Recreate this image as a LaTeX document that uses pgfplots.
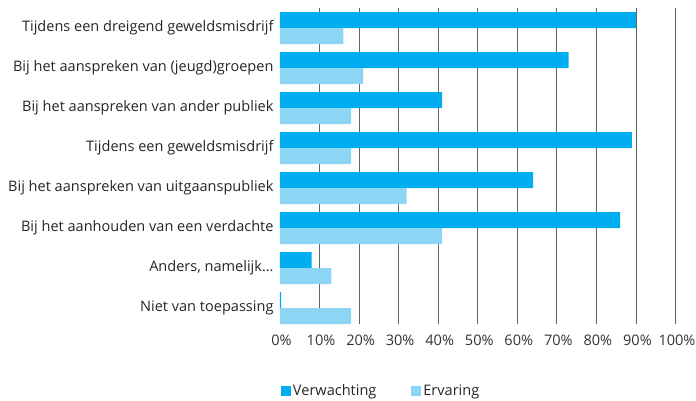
\documentclass[border=0pt]{standalone}
\usepackage{fontspec}
\setmainfont{Open Sans}
\usepackage{pgfplots}
\pgfplotsset{compat=1.18}
\definecolor{verw}{HTML}{00AEEF}
\definecolor{erv}{HTML}{8DD5F4}
\definecolor{gridgray}{HTML}{646464}
\newcommand{\lblfont}{\fontsize{14.6}{16}\selectfont}
\begin{document}
\begin{tikzpicture}
\useasboundingbox (-280bp,-77bp) rectangle (416bp,324bp);
\begin{axis}[
    at={(0,0)}, anchor=south west,
    scale only axis,
    width=395.5bp, height=316bp,
    xbar, bar width=16bp,
    xmin=0, xmax=100,
    ymin=-0.5, ymax=7.4,
    y dir=reverse,
    axis line style={draw=none},
    major tick length=0pt,
    xtick={10,20,...,100},
    extra x ticks={0},
    extra x tick style={grid=none},
    xmajorgrids,
    grid style={gridgray, line width=0.9pt},
    xticklabel={\pgfmathprintnumber{\tick}\%},
    /pgf/number format/assume math mode=true,
    xticklabel style={font=\lblfont, color=black!80, yshift=-7bp, xshift=1.5bp},
    ytick={0,1,2,3,4,5,6,7},
    yticklabels={Tijdens een dreigend geweldsmisdrijf,
                 Bij het aanspreken van (jeugd)groepen,
                 Bij het aanspreken van ander publiek,
                 Tijdens een geweldsmisdrijf,
                 Bij het aanspreken van uitgaanspubliek,
                 Bij het aanhouden van een verdachte,
                 {Anders, namelijk\ldots},
                 Niet van toepassing},
    yticklabel style={font=\lblfont, color=black!85, xshift=-3bp},
    legend columns=2,
    legend style={draw=none, inner sep=0pt, outer sep=0pt,
        at={(axis description cs:0.0025,-0.212)}, anchor=west,
        font=\lblfont, text=black!85,
        /tikz/every even column/.append style={column sep=33bp}},
    legend image code/.code={\fill[#1,draw=none] (0bp,-5bp) rectangle (10bp,5bp);},
]
\addplot[fill=verw, draw=none, bar shift=8bp] coordinates {
    (90,0) (73,1) (41,2) (89,3) (64,4) (86,5) (8,6) (0.3,7)
};
\addlegendentry{Verwachting}
\addplot[fill=erv, draw=none, bar shift=-8bp] coordinates {
    (16,0) (21,1) (18,2) (18,3) (32,4) (41,5) (13,6) (18,7)
};
\addlegendentry{Ervaring}
\end{axis}
\end{tikzpicture}
\end{document}
